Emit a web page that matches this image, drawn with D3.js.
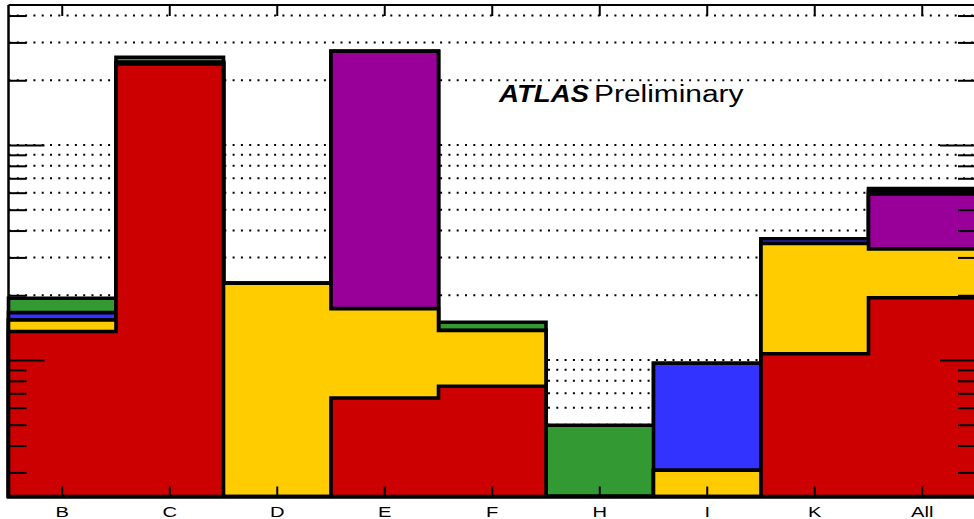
<!DOCTYPE html>
<html>
<head>
<meta charset="utf-8">
<script src="https://cdn.jsdelivr.net/npm/d3@7"></script>
<style>
  html, body { margin: 0; padding: 0; background: #fff; }
  svg { display: block; }
  text { font-family: "Liberation Sans", Arial, Helvetica, sans-serif; }
</style>
</head>
<body>
<svg id="chart" width="974" height="519"></svg>
<script>
// ---- data ----
const categories = ["B", "C", "D", "E", "F", "H", "I", "K", "All"];
// stacked contributions, bottom to top
const redValues    = [1.357, 23.8, 0,     0.666, 0.755, 0,     0,     1.07,  1.947];
const yellowValues = [0.178, 0.35, 2.274, 1.067, 0.616, 0,     0.307, 2.413, 1.34];
const purpleValues = [0,     0,    0,     25.57, 0,     0,     0,     0,     2.63];
const blueValues   = [0.125, 0.12, 0,     0,     0,     0,     0.658, 0.183, 0.19];
const greenValues  = [0.276, 1.31, 0,     0,     0.126, 0.497, 0,     0,     0.17];
const seriesNames  = ["red", "yellow", "purple", "blue", "green"];
const seriesColors = ["#cc0000", "#ffcc00", "#990099", "#3333ff", "#339933"];
const majorTicks = [1, 10];
const minorTicks = [0.3, 0.4, 0.5, 0.6, 0.7, 0.8, 0.9, 2, 3, 4, 5, 6, 7, 8, 9, 20, 30, 40];
const yDomain = [0.2318, 44.78];

(function () {
// ---- layout ----
const pLeft = 8.5, pRight = 976, pTop = 5, pBottom = 496.5;
const svg = d3.select("#chart");

const x = d3.scaleBand().domain(categories).range([pLeft, pRight]).paddingInner(0).paddingOuter(0);
const y = d3.scaleLog().domain(yDomain).range([pBottom, pTop]);
const yc = v => (v <= yDomain[0] ? pBottom : y(v));

// ---- grid (dotted) ----
const allTicks = majorTicks.concat(minorTicks);
svg.append("g").selectAll("line").data(allTicks).join("line")
  .attr("x1", pLeft).attr("x2", pRight)
  .attr("y1", d => y(d)).attr("y2", d => y(d))
  .attr("stroke", "#000").attr("stroke-width", 2)
  .attr("stroke-dasharray", "2 6.3");

// ---- stacked histograms ----
const series = [redValues, yellowValues, purpleValues, blueValues, greenValues];
const cumul = [];
series.forEach((s, k) => {
  cumul.push(s.map((v, i) => v + (k > 0 ? cumul[k - 1][i] : 0)));
});
const stepPath = vals => {
  const p = d3.path();
  p.moveTo(pLeft, pBottom);
  categories.forEach((c, i) => {
    const x0 = x(c), x1 = x(c) + x.bandwidth();
    p.lineTo(x0, yc(vals[i]));
    p.lineTo(x1, yc(vals[i]));
  });
  p.lineTo(pRight, pBottom);
  p.closePath();
  return p.toString();
};
const layerOrder = d3.range(series.length).reverse(); // draw top cumulative first
svg.append("g").selectAll("path").data(layerOrder).join("path")
  .attr("d", k => stepPath(cumul[k]))
  .attr("fill", k => seriesColors[k])
  .attr("stroke", "#000")
  .attr("stroke-width", 3.6)
  .attr("stroke-linejoin", "miter")
  .attr("class", k => "layer-" + seriesNames[k]);

// ---- axes ----
const axisStyle = g => {
  g.select(".domain").remove();
  g.selectAll(".tick line").attr("stroke", "#000").attr("stroke-width", 2);
};
svg.append("g").attr("transform", `translate(${pLeft},0)`)
  .call(d3.axisLeft(y).tickValues(majorTicks).tickSize(-36).tickFormat(""))
  .call(axisStyle);
svg.append("g").attr("transform", `translate(${pLeft},0)`)
  .call(d3.axisLeft(y).tickValues(minorTicks).tickSize(-18).tickFormat(""))
  .call(axisStyle);
svg.append("g").attr("transform", `translate(${pRight},0)`)
  .call(d3.axisRight(y).tickValues(majorTicks).tickSize(-36).tickFormat(""))
  .call(axisStyle);
svg.append("g").attr("transform", `translate(${pRight},0)`)
  .call(d3.axisRight(y).tickValues(minorTicks).tickSize(-18).tickFormat(""))
  .call(axisStyle);
const xb = svg.append("g").attr("transform", `translate(0,${pBottom})`)
  .call(d3.axisBottom(x).tickSize(-10).tickPadding(9.5))
  .call(axisStyle);
xb.selectAll(".tick text")
  .attr("font-size", 15.5)
  .attr("fill", "#000")
  .attr("font-family", '"Liberation Sans", Arial, Helvetica, sans-serif')
  .attr("transform", "scale(1.3,1)");
svg.append("g").attr("transform", `translate(0,${pTop})`)
  .call(d3.axisTop(x).tickSize(-11).tickFormat(""))
  .call(axisStyle);

// frame
svg.append("line").attr("x1", pLeft).attr("x2", pRight).attr("y1", pTop).attr("y2", pTop)
  .attr("stroke", "#000").attr("stroke-width", 2);
svg.append("line").attr("x1", pLeft).attr("x2", pRight).attr("y1", pBottom).attr("y2", pBottom)
  .attr("stroke", "#000").attr("stroke-width", 3);
svg.append("line").attr("x1", pLeft).attr("x2", pLeft).attr("y1", pTop).attr("y2", pBottom)
  .attr("stroke", "#000").attr("stroke-width", 2.5);

// ---- label ----
svg.append("text").attr("x", 499).attr("y", 101.5)
  .attr("font-size", 23).attr("font-weight", "bold").attr("font-style", "italic")
  .attr("textLength", 90).attr("lengthAdjust", "spacingAndGlyphs")
  .text("ATLAS");
svg.append("text").attr("x", 594).attr("y", 101.5)
  .attr("font-size", 23)
  .attr("textLength", 149.5).attr("lengthAdjust", "spacingAndGlyphs")
  .text("Preliminary");
})();
</script>
</body>
</html>
